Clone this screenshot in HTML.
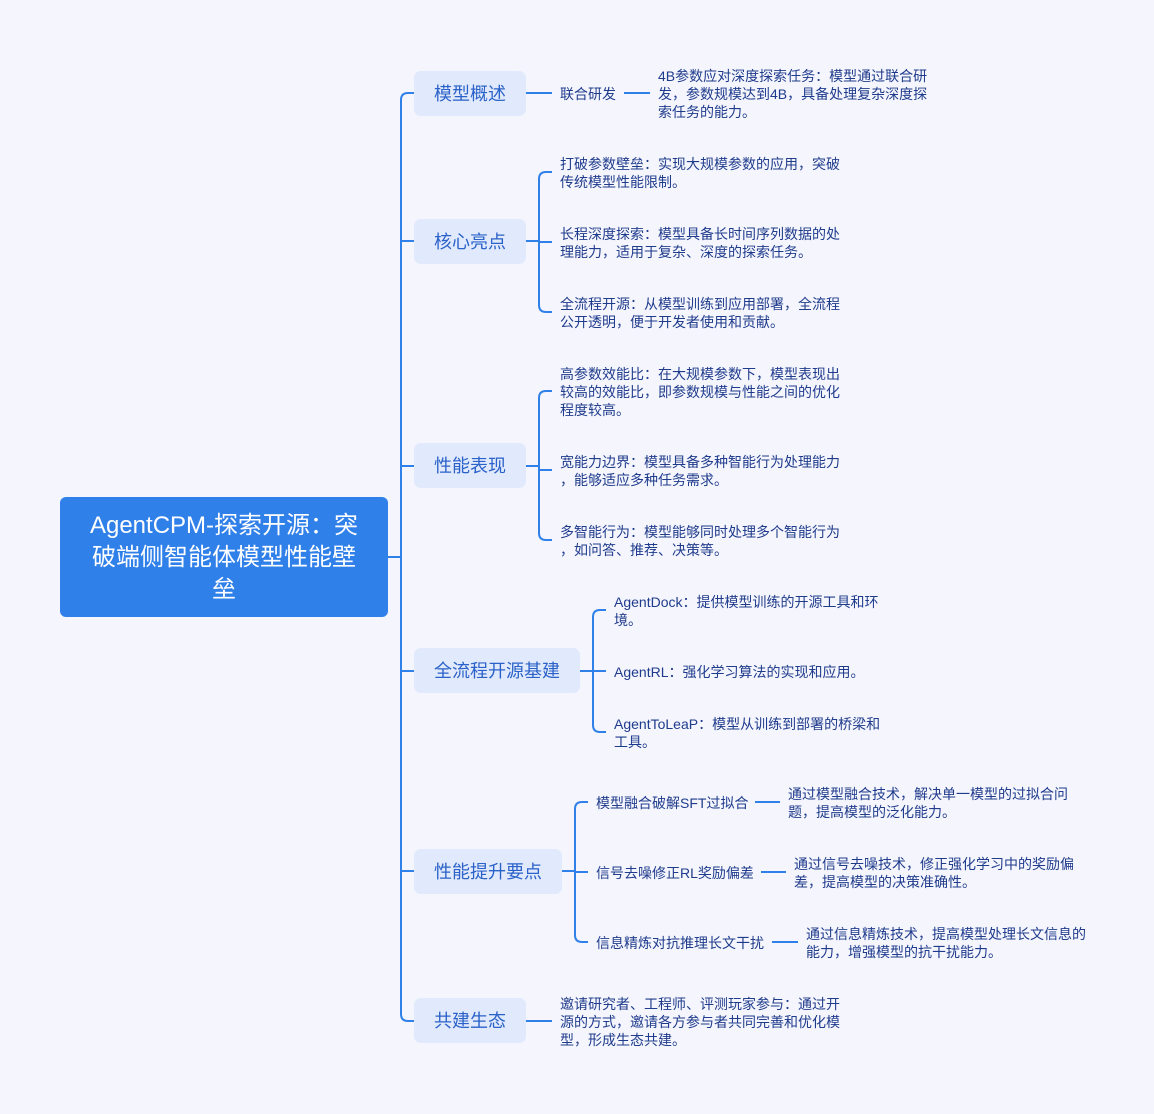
<!DOCTYPE html>
<html><head><meta charset="utf-8"><style>
body{margin:0;width:1154px;height:1114px;background:#f4f5fd;position:relative;overflow:hidden;font-family:"Liberation Sans","Noto Sans CJK SC",sans-serif}
.root{position:absolute;left:60px;top:497px;width:328px;height:120px;background:#3080ea;border-radius:6px;color:#fff;font-size:24px;line-height:32px;text-align:center;box-sizing:border-box;padding:13px 18px 0}
.n1{position:absolute;height:45px;line-height:47px;background:#e1e9fc;border-radius:7px;color:#2a62c9;font-size:18px;text-align:center;left:414px}
.t{position:absolute;font-size:14px;line-height:18px;color:#1f3b8c;white-space:nowrap;margin-top:1px}
svg{position:absolute;left:0;top:0}
</style></head><body>
<svg width="1154" height="1114" fill="none" stroke="#3080ea" stroke-width="2">
<path d="M414 93 H408 Q401 93 401 100 V1014 Q401 1021 408 1021 H414"/>
<path d="M388 557 H401 M401 241 H414 M401 466 H414 M401 671 H414 M401 871 H414"/>
<path d="M526 93 H552 M624 93 H650"/>
<path d="M526 241 H539 M552 172 H546 Q539 172 539 179 V305 Q539 312 546 312 H552 M539 242 H552"/>
<path d="M526 466 H539 M552 391 H546 Q539 391 539 398 V533 Q539 540 546 540 H552 M539 470 H552"/>
<path d="M580 671 H593 M606 610 H600 Q593 610 593 617 V725 Q593 732 600 732 H606 M593 671 H606"/>
<path d="M562 871 H575 M588 802 H582 Q575 802 575 809 V935 Q575 942 582 942 H588 M575 872 H588"/>
<path d="M755 802 H780 M761 872 H786 M772 942 H798"/>
<path d="M526 1021 H552"/>
</svg>
<div class="root">AgentCPM-探索开源：突<br>破端侧智能体模型性能壁<br>垒</div>
<div class="n1" style="top:71px;width:112px">模型概述</div>
<div class="n1" style="top:219px;width:112px">核心亮点</div>
<div class="n1" style="top:443px;width:112px">性能表现</div>
<div class="n1" style="top:648px;width:166px">全流程开源基建</div>
<div class="n1" style="top:849px;width:148px">性能提升要点</div>
<div class="n1" style="top:998px;width:112px">共建生态</div>
<div class="t" style="left:560px;top:84px">联合研发</div>
<div class="t" style="left:658px;top:66px">4B参数应对深度探索任务：模型通过联合研<br>发，参数规模达到4B，具备处理复杂深度探<br>索任务的能力。</div>
<div class="t" style="left:560px;top:154px">打破参数壁垒：实现大规模参数的应用，突破<br>传统模型性能限制。</div>
<div class="t" style="left:560px;top:224px">长程深度探索：模型具备长时间序列数据的处<br>理能力，适用于复杂、深度的探索任务。</div>
<div class="t" style="left:560px;top:294px">全流程开源：从模型训练到应用部署，全流程<br>公开透明，便于开发者使用和贡献。</div>
<div class="t" style="left:560px;top:364px">高参数效能比：在大规模参数下，模型表现出<br>较高的效能比，即参数规模与性能之间的优化<br>程度较高。</div>
<div class="t" style="left:560px;top:452px">宽能力边界：模型具备多种智能行为处理能力<br>，能够适应多种任务需求。</div>
<div class="t" style="left:560px;top:522px">多智能行为：模型能够同时处理多个智能行为<br>，如问答、推荐、决策等。</div>
<div class="t" style="left:614px;top:592px">AgentDock：提供模型训练的开源工具和环<br>境。</div>
<div class="t" style="left:614px;top:662px">AgentRL：强化学习算法的实现和应用。</div>
<div class="t" style="left:614px;top:714px">AgentToLeaP：模型从训练到部署的桥梁和<br>工具。</div>
<div class="t" style="left:596px;top:793px">模型融合破解SFT过拟合</div>
<div class="t" style="left:596px;top:863px">信号去噪修正RL奖励偏差</div>
<div class="t" style="left:596px;top:933px">信息精炼对抗推理长文干扰</div>
<div class="t" style="left:788px;top:784px">通过模型融合技术，解决单一模型的过拟合问<br>题，提高模型的泛化能力。</div>
<div class="t" style="left:794px;top:854px">通过信号去噪技术，修正强化学习中的奖励偏<br>差，提高模型的决策准确性。</div>
<div class="t" style="left:806px;top:924px">通过信息精炼技术，提高模型处理长文信息的<br>能力，增强模型的抗干扰能力。</div>
<div class="t" style="left:560px;top:994px">邀请研究者、工程师、评测玩家参与：通过开<br>源的方式，邀请各方参与者共同完善和优化模<br>型，形成生态共建。</div>
</body></html>
